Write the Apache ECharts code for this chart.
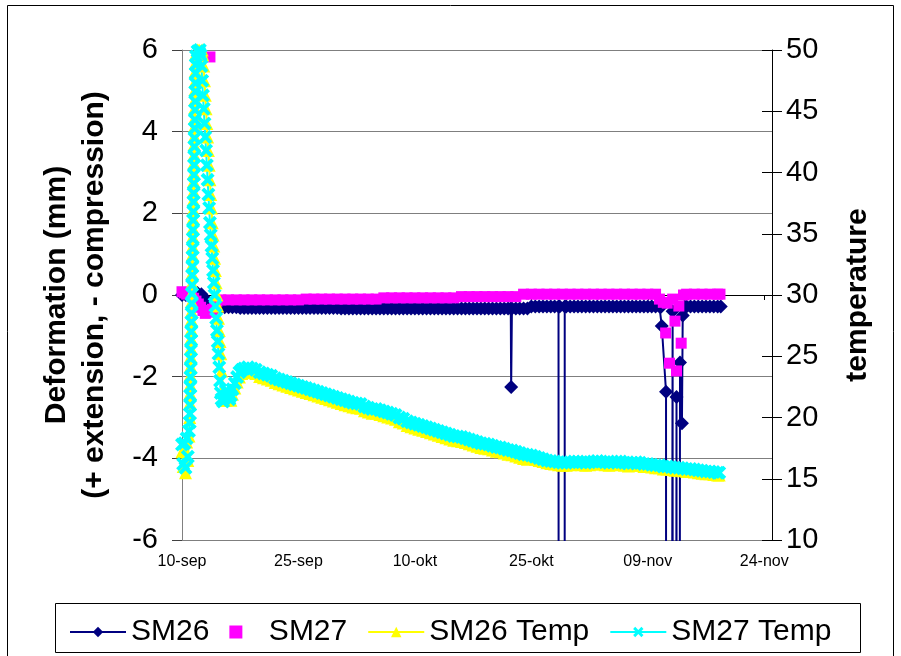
<!DOCTYPE html>
<html>
<head>
<meta charset="utf-8">
<script src="https://cdn.jsdelivr.net/npm/echarts@6/dist/echarts.min.js"></script>
<style>html,body{margin:0;padding:0;background:#fff}#c{width:901px;height:656px}</style>
</head>
<body>
<div id="c"></div>
<script>
// x values are days after 10-sep
const xTickLabels = ['10-sep','25-sep','10-okt','25-okt','09-nov','24-nov'];
const leftTicks = [-6,-4,-2,0,2,4,6];
const rightTicks = [10,15,20,25,30,35,40,45,50];
const seriesNames = ['SM26','SM27','SM26 Temp','SM27 Temp'];

const sm26Days = [
0,0.5,1,1.5,2,2.5,3,3.5,4,4.5,
5,5.5,6,6.5,7,7.5,8,8.5,9,9.5,
10,10.5,11,11.5,12,12.5,13,13.5,14,14.5,
15,15.5,16,16.5,17,17.5,18,18.5,19,19.5,
20,20.5,21,21.5,22,22.5,23,23.5,24,24.5,
25,25.5,26,26.5,27,27.5,28,28.5,29,29.5,
30,30.5,31,31.5,32,32.5,33,33.5,34,34.5,
35,35.5,36,36.5,37,37.5,38,38.5,39,39.5,
40,40.5,41,41.5,42,
42.35,42.4,42.5,
43,43.5,44,44.5,45,45.5,46,46.5,47,47.5,48,48.5,
48.65,48.7,49.25,49.3,
49.5,50,50.5,51,51.5,52,52.5,53,53.5,54,54.5,55,55.5,56,56.5,57,57.5,58,58.5,59,59.5,60,60.5,61,61.5,
61.75,61.8,62.35,62.4,63.2,63.25,63.7,63.75,64.15,64.4,64.5,64.75,
65,65.5,66,66.5,67,67.5,68,68.5,69,69.4];
const sm26Values = [
0,0,0.02,0.05,0.05,0.02,-0.1,-0.2,-0.28,-0.3,
-0.3,-0.3,-0.3,-0.3,-0.3,-0.32,-0.32,-0.32,-0.32,-0.32,
-0.32,-0.32,-0.32,-0.32,-0.32,-0.32,-0.32,-0.32,-0.32,-0.32,
-0.32,-0.32,-0.32,-0.32,-0.32,-0.32,-0.32,-0.32,-0.32,-0.32,
-0.32,-0.33,-0.33,-0.33,-0.33,-0.33,-0.33,-0.33,-0.33,-0.33,
-0.33,-0.33,-0.33,-0.33,-0.33,-0.33,-0.33,-0.33,-0.33,-0.33,
-0.33,-0.33,-0.33,-0.33,-0.33,-0.33,-0.33,-0.33,-0.33,-0.33,
-0.33,-0.33,-0.33,-0.33,-0.33,-0.33,-0.33,-0.33,-0.33,-0.33,
-0.33,-0.33,-0.33,-0.33,-0.33,
-0.33,-2.25,-0.33,
-0.33,-0.33,-0.33,-0.33,-0.28,-0.28,-0.28,-0.28,-0.28,-0.28,-0.28,-0.28,
-0.28,-99,-99,-0.28,
-0.28,-0.28,-0.28,-0.28,-0.28,-0.28,-0.28,-0.28,-0.28,-0.28,-0.28,-0.28,-0.28,-0.28,-0.28,-0.28,-0.28,-0.28,-0.28,-0.28,-0.28,-0.28,-0.28,-0.28,-0.28,
-0.28,-0.76,-2.37,-99,-0.4,-99,-2.5,-99,-1.65,-3.14,-0.5,-0.28,
-0.28,-0.28,-0.28,-0.28,-0.28,-0.28,-0.28,-0.28,-0.28,-0.28];

const sm27Days = [
0,0.3,0.6,0.9,1.2,1.5,1.8,2.1,2.4,2.7,3,3.3,3.6,3.9,4.2,4.5,
5,6,7,8,9,10,11,12,13,14,15,
16,17,18,19,20,21,22,23,24,25,
26,27,28,29,30,31,32,33,34,35,
36,37,38,39,40,41,42,43,
44,45,46,47,48,49,50,51,52,53,54,55,56,57,58,59,60,61,
61.5,62,62.3,62.5,62.8,63.2,63.5,63.7,64,64.3,64.6,
65,66,67,68,69,69.3];
const sm27Values = [
0.08,0.05,0.02,0.05,-0.02,-0.08,-0.15,-0.22,-0.3,-0.38,-0.45,-0.42,5.83,-0.35,-0.25,-0.15,
-0.12,-0.12,-0.12,-0.12,-0.12,-0.12,-0.12,-0.12,-0.12,-0.12,-0.12,
-0.1,-0.1,-0.1,-0.1,-0.1,-0.1,-0.1,-0.1,-0.1,-0.1,
-0.07,-0.07,-0.07,-0.07,-0.07,-0.07,-0.07,-0.07,-0.07,-0.07,
-0.04,-0.04,-0.04,-0.04,-0.04,-0.04,-0.04,-0.04,
0.02,0.02,0.02,0.02,0.02,0.02,0.02,0.02,0.02,0.02,0.02,0.02,0.02,0.02,0.02,0.02,0.02,0.02,
-0.1,-0.18,-0.93,-0.2,-1.67,-0.1,-0.64,-1.86,-0.27,-1.18,0,
0.02,0.02,0.02,0.02,0.02,0.02];

const tempDays = [
0,0.15,0.3,0.45,0.6,0.75,0.9,1.0,
1.02,1.04,1.06,1.08,1.1,1.12,1.14,1.16,1.18,1.2,
1.22,1.24,1.26,1.28,1.3,1.32,1.34,1.36,1.38,1.4,
1.42,1.44,1.46,1.48,1.5,1.52,1.54,1.56,1.58,1.6,
1.62,1.64,1.66,1.68,1.7,1.72,1.74,1.76,1.78,1.8,
1.9,2.0,2.1,2.2,2.3,2.4,
2.5,2.6,2.7,2.8,2.9,3.0,3.1,3.2,3.3,3.4,3.5,3.6,3.7,3.8,3.9,4.0,4.1,4.2,4.3,4.4,4.5,4.6,4.7,4.8,4.9,5.0,
5.1,5.3,5.5,5.7,5.9,6.1,6.3,6.5,6.8,7.1,7.4,7.7,8.0,8.5,9.0,9.5,
10,10.5,11,11.5,12,12.5,13,13.5,14,14.5,
15,15.5,16,16.5,17,17.5,18,18.5,19,19.5,
20,20.5,21,21.5,22,22.5,23,23.5,24,24.5,
25,25.5,26,26.5,27,27.5,28,28.5,29,29.5,
30,30.5,31,31.5,32,32.5,33,33.5,34,34.5,
35,35.5,36,36.5,37,37.5,38,38.5,39,39.5,
40,40.5,41,41.5,42,42.5,43,43.5,44,44.5,
45,45.5,46,46.5,47,47.5,48,48.5,49,49.5,
50,50.5,51,51.5,52,52.5,53,53.5,54,54.5,
55,55.5,56,56.5,57,57.5,58,58.5,59,59.5,
60,60.5,61,61.5,62,62.5,63,63.5,64,64.5,
65,65.5,66,66.5,67,67.5,68,68.5,69,69.2];

const sm27TempValues = [
17.8,16.2,17.9,15.9,18.3,16.8,18.9,19.6,
20.3,21.0,21.8,22.5,23.3,24.0,24.8,25.5,26.3,27.0,
27.8,28.5,29.3,30.1,30.8,31.6,32.3,33.1,33.8,34.6,
35.3,36.1,36.8,37.6,38.3,39.1,39.8,40.6,41.3,42.1,
42.8,43.6,44.3,45.1,45.8,46.6,47.3,48.1,48.8,49.5,
50.2,49.9,50.1,49.8,50.0,49.6,
48.7,47.5,46.3,45.2,44.0,42.9,41.8,40.6,39.4,38.2,37.1,35.9,34.9,34.0,33.0,32.0,31.0,30.0,29.1,28.1,27.1,26.2,25.2,24.1,23.0,22.0,
21.5,21.3,21.6,22.2,22.0,21.5,21.8,22.3,22.8,23.3,23.7,23.9,24.0,24.1,24.0,23.9,
23.7,23.6,23.5,23.4,23.2,23.1,23.0,22.9,22.8,22.7,
22.6,22.5,22.4,22.3,22.2,22.1,22.0,21.9,21.8,21.7,
21.6,21.5,21.4,21.3,21.2,21.15,21.1,20.9,20.8,20.7,
20.7,20.6,20.5,20.4,20.3,20.2,20.0,19.9,19.7,19.6,
19.5,19.4,19.3,19.2,19.1,19.0,18.9,18.8,18.7,18.6,
18.5,18.45,18.4,18.3,18.2,18.1,18.0,17.9,17.85,17.8,
17.7,17.6,17.55,17.45,17.35,17.3,17.2,17.1,17.0,16.95,
16.9,16.8,16.7,16.6,16.5,16.45,16.4,16.35,16.3,16.3,
16.35,16.4,16.4,16.35,16.3,16.35,16.4,16.45,16.4,16.35,
16.3,16.35,16.4,16.4,16.3,16.25,16.3,16.35,16.3,16.2,
16.2,16.15,16.1,16.1,16.0,16.0,15.95,15.9,15.9,15.85,
15.8,15.8,15.75,15.7,15.65,15.6,15.6,15.55,15.5,15.5];

const sm26TempValues = [
17.2,16.0,17.5,15.5,18.0,16.5,18.5,20.0,
21.2,22.0,22.7,23.5,24.2,25.0,25.7,26.5,27.2,28.0,
28.7,29.5,30.2,31.0,31.8,32.5,33.3,34.0,34.8,35.5,
36.3,37.0,37.8,38.5,39.3,40.0,40.8,41.5,42.3,43.0,
43.8,44.5,45.3,46.0,46.8,47.5,48.3,49.0,49.7,50.1,
50.3,50.0,50.2,50.0,50.1,49.9,
49.8,50.0,49.6,48.7,47.5,46.3,45.2,44.0,42.9,41.8,40.6,39.4,38.2,37.1,35.9,34.9,34.0,33.0,32.0,31.0,30.0,29.1,28.1,27.1,26.2,25.2,
23.8,22.3,21.4,21.4,21.9,21.6,21.4,21.9,22.4,22.9,23.3,23.6,23.7,23.8,23.7,23.6,
23.35,23.25,23.15,23.05,22.85,22.75,22.65,22.55,22.45,22.35,
22.25,22.15,22.05,21.95,21.85,21.75,21.65,21.55,21.45,21.35,
21.25,21.15,21.05,20.95,20.85,20.8,20.75,20.55,20.45,20.35,
20.35,20.25,20.15,20.05,19.95,19.85,19.65,19.55,19.35,19.25,
19.15,19.05,18.95,18.85,18.75,18.65,18.55,18.45,18.35,18.25,
18.15,18.1,18.05,17.95,17.85,17.75,17.65,17.55,17.5,17.45,
17.35,17.25,17.2,17.1,17.0,16.95,16.85,16.75,16.65,16.6,
16.7,16.6,16.5,16.4,16.3,16.25,16.2,16.15,16.1,16.1,
16.15,16.2,16.2,16.15,16.1,16.15,16.2,16.25,16.2,16.15,
16.1,16.15,16.2,16.2,16.1,16.05,16.1,16.15,16.1,16.0,
16.0,15.95,15.9,15.9,15.8,15.8,15.75,15.7,15.7,15.65,
15.6,15.6,15.55,15.5,15.45,15.4,15.4,15.35,15.3,15.3];

function zip(a, b) { return a.map(function (d, i) { return [d, b[i]]; }); }

const FONT = "'Liberation Sans', Arial, sans-serif";
const crossPath = 'path://M0,2L2,0L5,3L8,0L10,2L7,5L10,8L8,10L5,7L2,10L0,8L3,5Z';

const chart = echarts.init(document.getElementById('c'), null, {renderer: 'canvas'});
chart.setOption({
  animation: false,
  backgroundColor: '#fff',
  grid: {left: 182, right: 129, top: 50, bottom: 116, containLabel: false},
  xAxis: {
    type: 'value', min: 0, max: 76, interval: 15,
    axisLine: {show: true, lineStyle: {color: '#000', width: 1}},
    axisTick: {show: true, inside: false, length: 5, lineStyle: {color: '#000'}},
    axisLabel: {
      show: true, margin: 14, fontSize: 16, fontFamily: FONT, color: '#000',
      showMaxLabel: false,
      formatter: function (v) {
        const i = Math.round(v / 15);
        return (Math.abs(v - i * 15) < 1e-6 && i < xTickLabels.length) ? xTickLabels[i] : '';
      }
    },
    splitLine: {show: false}
  },
  yAxis: [
    {
      type: 'value', position: 'left', min: leftTicks[0], max: leftTicks[leftTicks.length - 1], interval: 2,
      axisLine: {show: true, lineStyle: {color: '#808080', width: 1}},
      axisTick: {show: true, inside: false, length: 10, lineStyle: {color: '#404040'}},
      axisLabel: {margin: 24, fontSize: 29, fontFamily: FONT, color: '#000'},
      splitLine: {show: true, lineStyle: {color: '#7f7f7f', width: 1}}
    },
    {
      type: 'value', position: 'right', min: rightTicks[0], max: rightTicks[rightTicks.length - 1], interval: 5,
      axisLine: {show: true, onZero: false, lineStyle: {color: '#000', width: 1}},
      axisTick: {show: true, inside: false, length: 10, lineStyle: {color: '#000'}},
      axisLabel: {margin: 14, fontSize: 29, fontFamily: FONT, color: '#000'},
      splitLine: {show: false}
    },
    {
      type: 'value', position: 'right', min: rightTicks[0], max: rightTicks[rightTicks.length - 1], interval: 5,
      axisLine: {show: false},
      axisTick: {show: true, inside: true, length: 10, lineStyle: {color: '#000'}},
      axisLabel: {show: false},
      splitLine: {show: false}
    }
  ],
  legend: {
    left: 64, top: 612, orient: 'horizontal',
    itemWidth: 56, itemHeight: 13, itemGap: 20,
    textStyle: {fontSize: 30, fontFamily: FONT, color: '#000'},
    data: [
      {name: seriesNames[0]},
      {name: seriesNames[1], icon: 'path://M0,0L10,0L10,10L0,10Z'},
      {name: seriesNames[2]},
      {name: seriesNames[3]}
    ],
    selectedMode: false
  },
  graphic: [
    {type: 'rect', shape: {x: 7.5, y: 5.5, width: 886, height: 660}, style: {fill: 'none', stroke: '#000', lineWidth: 1}, silent: true},
    {type: 'rect', shape: {x: 55.5, y: 603.5, width: 805, height: 49}, style: {fill: 'none', stroke: '#000', lineWidth: 1}, silent: true},
    {type: 'text', x: 76, y: 295, rotation: Math.PI / 2,
      style: {text: 'Deformation (mm)\n(+ extension, - compression)', font: 'bold 30px ' + FONT,
        fontSize: 30, fontWeight: 'bold', fontFamily: FONT,
        align: 'center', verticalAlign: 'middle', textAlign: 'center', textVerticalAlign: 'middle', lineHeight: 38, fill: '#000'}},
    {type: 'text', x: 858, y: 295, rotation: Math.PI / 2,
      style: {text: 'temperature', font: 'bold 30px ' + FONT,
        fontSize: 30, fontWeight: 'bold', fontFamily: FONT,
        align: 'center', verticalAlign: 'middle', textAlign: 'center', textVerticalAlign: 'middle', fill: '#000'}}
  ],
  series: [
    {
      name: seriesNames[0], type: 'line', yAxisIndex: 0, data: zip(sm26Days, sm26Values),
      symbol: 'diamond', symbolSize: 14, showSymbol: true, showAllSymbol: true, clip: true,
      lineStyle: {color: '#000080', width: 2}, itemStyle: {color: '#000080'},
      emphasis: {disabled: true}, z: 2
    },
    {
      name: seriesNames[1], type: 'scatter', yAxisIndex: 0, data: zip(sm27Days, sm27Values),
      symbol: 'rect', symbolSize: 11, clip: true,
      itemStyle: {color: '#FF00FF', opacity: 1}, emphasis: {disabled: true}, z: 2
    },
    {
      name: seriesNames[2], type: 'line', yAxisIndex: 1, data: zip(tempDays, sm26TempValues),
      symbol: 'triangle', symbolSize: 13, showSymbol: true, showAllSymbol: true, clip: true,
      lineStyle: {color: '#FFFF00', width: 2}, itemStyle: {color: '#FFFF00'},
      emphasis: {disabled: true}, z: 2
    },
    {
      name: seriesNames[3], type: 'line', yAxisIndex: 1, data: zip(tempDays, sm27TempValues),
      symbol: crossPath, symbolSize: 14, showSymbol: true, showAllSymbol: true, clip: true,
      lineStyle: {color: '#00FFFF', width: 2}, itemStyle: {color: '#00FFFF'},
      emphasis: {disabled: true}, z: 2
    }
  ]
});
</script>
</body>
</html>
